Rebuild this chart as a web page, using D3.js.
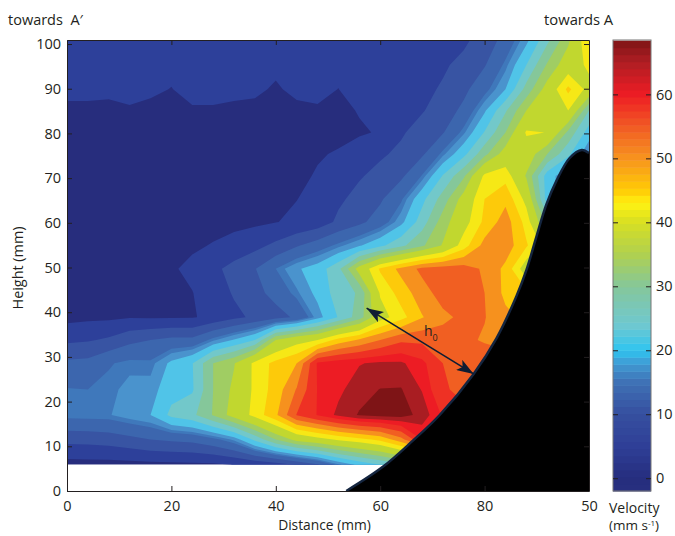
<!DOCTYPE html>
<html>
<head>
<meta charset="utf-8">
<script src="https://d3js.org/d3.v7.min.js"></script>
<style>
  html, body { margin: 0; padding: 0; background: #fff; }
  text { font-family: "Open Sans", sans-serif; fill: #231f20; }
</style>
</head>
<body>
<div id="chart"></div>
<script>
const width = 675;
const height = 536;

// grid the velocity was measured on
const distances = d3.range(0, 101, 4);
const heights = [5.9, 11.5, 17, 22.7, 28.6, 33.8, 38.9, 44.3, 49.7, 54.9, 60.2, 65.3, 70.5, 75.4, 80.2, 85.1, 89.9, 95.3, 100.9];

// velocity (mm/s), bottom row first. cells under the wall are just filler
const velocity = [
  .5,.6,.6,.8,1,1.1,1.2,1.3,2.1,2.8,4,6.2,9.6,15,19,22,25,25,25,25,25,25,25,25,25,25,
  7.2,7.3,7.8,8.8,10,10.6,11.2,13,16,23,30,35.5,38,40.7,42.6,45,50.5,60,60,60,60,60,60,60,60,60,
  15,15.2,15.3,16.8,18,23,25,30.3,36,41.5,47.3,56.2,60.2,63.8,66.3,67,67.3,65,59.5,57,57,57,57,57,57,57,
  14.2,14,14.8,16.3,16.5,20.5,21.5,30,35,41,45.8,52.3,60.2,62.3,64.7,66.1,66.2,62.8,56.5,55,55,55,55,55,55,55,
  10.8,11.2,13.7,14.8,14.6,18.8,21.8,30,33.7,41.2,45.3,48,60.5,62,62.8,63.6,63.5,61,56,55,55,55,55,55,55,55,
  5.2,5.6,6.6,8.9,10,11,11,15,18.3,22,34,38,40,45.5,48.5,52,55.2,55,54,53,51.5,50,50,50,50,50,
  .8,1.2,1.3,1.7,1.6,1.6,1.7,3,5,6.8,8.4,10.7,16.5,22.3,28,38,42.5,47.7,51,53,52.2,49,47,47,47,47,
  .9,.9,1,1,1.1,1.2,1.9,3.8,6.4,8.7,11.4,15,19,24,26.5,40.5,45.8,50.2,53.8,54,52,47,45,45,45,45,
  .9,.9,.9,1,1,1.6,2.8,5,7.4,9.8,14,17.5,19.8,25,36,44.6,49.2,53,54,54,51.3,47,37,30,30,30,
  .8,.8,.8,.9,.9,1,1.5,2.2,3.2,4.8,6.9,9.6,12,14.8,17.6,21,25,29.3,34.4,42.2,49.5,50.3,44.5,38,35,35,
  .9,.9,.9,.9,.9,1,1,1,1.1,1.3,1.9,2.6,3.7,6.8,9,12,17,24,32,38,45,50,42.5,28,22,20,
  .9,.9,.9,.9,.9,1,1,1,1.1,1.2,1.5,1.95,2.8,5.3,7.3,9.4,13.5,20.8,27.8,36,44,47,38.5,20,15,12,
  1,1,1,1,1,1,1,1.1,1.1,1.2,1.2,1.5,2.2,4,5.6,7.3,9.2,14.2,22.3,29.3,41,42.5,33.5,20,15,10,
  1.1,1.1,1.1,1.1,1.1,1.1,1.1,1.1,1.1,1.2,1.2,1.3,1.8,2.2,3.8,5.4,6.9,9.3,14.8,20.8,28.8,36.3,37,30,23,15,
  1.2,1.2,1.2,1.2,1.2,1.2,1.2,1.2,1.2,1.2,1.2,1.2,1.2,1.4,1.6,2.3,5.5,7.7,9.7,15,22.3,30,40.6,39.9,29,20,
  1.2,1.2,1.2,1.6,1.2,1.2,1.6,1.6,1.2,1.2,1.2,1.2,1.6,1.2,2.2,3,4.2,5.7,7.8,11,17.5,25.5,34,38.5,40,26,
  3,3,2.7,3.1,2.6,1.9,3.1,3.1,3,2.6,1.6,2.8,2.9,1.95,4,4.2,4.6,5.1,6.4,9,12.8,18,27.5,36,45,38.3,
  3.8,3.8,3.8,3.8,3.8,2.9,3.8,3.8,3.8,3.8,2.7,3.7,3.8,3,4.5,4.8,5,5.2,5.5,7,9.7,14.7,22,30.5,37,41,
  4,4,4,4,4,4,4,4,4,4,4,4,4,4,4,4,4,4,4.5,5.3,7.6,11.5,17,25,33,44.3
];

const levels = [2, 6, 10, 14, 15.5, 18, 22, 26, 30, 34, 40, 44, 48, 52, 56, 60, 63, 66];
const bandColors = ["#272d7d", "#2d409a", "#3854a3", "#3c66ae", "#3f78bb", "#4a93cd", "#50c4e8", "#72c8ca", "#85c79a",
  "#a0cd63", "#c1d72f", "#f6e816", "#fdca0a", "#f6911e", "#f15f22", "#ee3124", "#ed1c24", "#a91d22", "#7e1416"];

// colour bar
const barStops = [-2, 0, 5, 10, 15, 18, 20, 24, 30, 35, 40, 43, 45, 50, 55, 60, 65, 68.5];
const barColors = ["#28307f", "#262d7e", "#2f3f97", "#364f9f", "#3f71b5", "#409bd4", "#2ec4f0", "#6fc8d0", "#85c79a",
  "#afd050", "#d7df23", "#fff212", "#ffcb05", "#f7941e", "#f15a24", "#ed1c24", "#b01e23", "#7e1416"];
const barTicks = [0, 10, 20, 30, 40, 50, 60];

// wall profile
const wallX = [53.5, 60.5, 66.2, 71.4, 77.9, 82.3, 86.1, 88, 89.9, 91.8, 93.8, 96.3, 98.6, 100];
const wallH = [0, 5.4, 11.2, 17, 26.2, 34.2, 43.6, 49.4, 56.8, 64, 69.5, 74.5, 76.3, 75.6];

const xTicks = [0, 20, 40, 60, 80, 100];
const xTickLabels = ["0", "20", "40", "60", "80", "50"];
const yTicks = [0, 10, 20, 30, 40, 50, 60, 70, 80, 90, 100];

const x = d3.scaleLinear().domain([0, 100]).range([67, 589]);
const y = d3.scaleLinear().domain([0, 100.9]).range([491, 40]);

const svg = d3.select("#chart").append("svg")
  .attr("width", width)
  .attr("height", height)
  .style("display", "block");

svg.append("clipPath").attr("id", "plot")
  .append("rect")
  .attr("x", x(0)).attr("y", y(100.9))
  .attr("width", x(100) - x(0)).attr("height", y(5.9) - y(100.9));

// contour coordinates are in cells, a value sits at the centre of its cell
const colToPx = d3.scaleLinear().domain(distances.map((d, i) => i + .5)).range(distances.map(d => x(d)));
const rowToPx = d3.scaleLinear().domain(heights.map((d, i) => i + .5)).range(heights.map(d => y(d)));
const contourPath = d3.geoPath(d3.geoTransform({
  point(px, py) { this.stream.point(colToPx(px), rowToPx(py)); }
}));

const contours = d3.contours()
  .size([distances.length, heights.length])
  .thresholds(levels)(velocity);

const field = svg.append("g").attr("clip-path", "url(#plot)");
field.append("rect")
  .attr("x", x(0)).attr("y", y(100.9))
  .attr("width", x(100) - x(0)).attr("height", y(5.9) - y(100.9))
  .attr("fill", bandColors[0]);
field.selectAll("path")
  .data(contours)
  .enter()
  .append("path")
  .attr("d", contourPath)
  .attr("fill", (d, i) => bandColors[i + 1]);

// wall
const wall = d3.area()
  .x((d, i) => x(wallX[i]))
  .y0(y(0))
  .y1((d, i) => y(wallH[i]))
  .curve(d3.curveCatmullRom);
const wallEdge = d3.line()
  .x((d, i) => x(wallX[i]))
  .y((d, i) => y(wallH[i]))
  .curve(d3.curveCatmullRom);
svg.append("path").attr("d", wall(wallX)).attr("fill", "#000");
svg.append("path").attr("d", wallEdge(wallX))
  .attr("fill", "none")
  .attr("stroke", "#14253f")
  .attr("stroke-width", 2.5);

// arrow h0
const defs = svg.append("defs");
defs.append("marker").attr("id", "head")
  .attr("markerUnits", "userSpaceOnUse")
  .attr("markerWidth", 18).attr("markerHeight", 12)
  .attr("refX", 17).attr("refY", 6)
  .attr("orient", "auto-start-reverse")
  .append("path")
  .attr("d", "M17,6 L0,0 L4,6 L0,12 Z")
  .attr("fill", "#0f1d33");
svg.append("line")
  .attr("x1", x(57.4)).attr("y1", y(40.9))
  .attr("x2", x(77.9)).attr("y2", y(26.2))
  .attr("stroke", "#0f1d33").attr("stroke-width", 1.6)
  .attr("marker-start", "url(#head)")
  .attr("marker-end", "url(#head)");
const h0 = svg.append("text").attr("x", 424).attr("y", 336).style("font-size", "14px");
h0.append("tspan").text("h");
h0.append("tspan").attr("dy", 5).style("font-size", "9px").text("0");

// axes
function styleAxis(g) {
  g.selectAll("path").attr("stroke", "#231f20");
  g.selectAll("line").attr("stroke", "#231f20");
  g.selectAll("text").style("font-size", "14.5px").attr("fill", "#231f20");
}
svg.append("g")
  .attr("transform", `translate(0,${y(0)})`)
  .call(d3.axisBottom(x).tickValues(xTicks).tickSizeInner(-5).tickSizeOuter(0).tickPadding(10)
    .tickFormat((d, i) => xTickLabels[i]))
  .call(styleAxis);
svg.append("g")
  .attr("transform", `translate(${x(0)},0)`)
  .call(d3.axisLeft(y).tickValues(yTicks).tickSizeInner(-5).tickSizeOuter(0).tickPadding(6))
  .call(styleAxis);
svg.append("g")
  .attr("transform", `translate(0,${y(100.9)})`)
  .call(d3.axisTop(x).tickValues(xTicks.slice(1, 5)).tickSizeInner(-5).tickSizeOuter(0).tickFormat(""))
  .call(styleAxis);
svg.append("g")
  .attr("transform", `translate(${x(100)},0)`)
  .call(d3.axisRight(y).tickValues(yTicks).tickSizeInner(-5).tickSizeOuter(0).tickFormat(""))
  .call(styleAxis);

svg.append("text").attr("x", 324.5).attr("y", 530).attr("text-anchor", "middle")
  .style("font-size", "13.8px").text("Distance (mm)");
svg.append("text").attr("transform", "translate(22.5,268) rotate(-90)").attr("text-anchor", "middle")
  .style("font-size", "14.4px").text("Height (mm)");
svg.append("text").attr("x", 8).attr("y", 25).style("font-size", "14.5px").text("towards\u00a0 A\u2032");
svg.append("text").attr("x", 544).attr("y", 25).style("font-size", "14.8px").text("towards A");

// colour bar
const barY = d3.scaleLinear().domain([-2, 68.5]).range([491, 40]);
const barColor = d3.scaleLinear().domain(barStops).range(barColors);
const stripes = d3.range(-2, 67.4, 1.1);
const barX0 = 613, barX1 = 651;
svg.append("g").selectAll("rect")
  .data(stripes)
  .enter()
  .append("rect")
  .attr("x", barX0)
  .attr("width", barX1 - barX0)
  .attr("y", d => barY(Math.min(d + 1.1, 68.5)))
  .attr("height", d => barY(d) - barY(Math.min(d + 1.1, 68.5)) + .5)
  .attr("fill", d => barColor(d + .55));
svg.append("rect")
  .attr("x", barX0).attr("y", barY(68.5))
  .attr("width", barX1 - barX0).attr("height", barY(-2) - barY(68.5))
  .attr("fill", "none").attr("stroke", "#777");
svg.append("g")
  .attr("transform", `translate(${barX1},0)`)
  .call(d3.axisRight(barY).tickValues(barTicks).tickSizeInner(-5).tickSizeOuter(0).tickPadding(5))
  .call(g => g.select("path").remove())
  .call(styleAxis);
svg.append("g")
  .attr("transform", `translate(${barX0},0)`)
  .call(d3.axisLeft(barY).tickValues(barTicks).tickSizeInner(-5).tickSizeOuter(0).tickFormat(""))
  .call(g => g.select("path").remove())
  .call(styleAxis);

svg.append("text").attr("x", 609).attr("y", 513).style("font-size", "14px").text("Velocity");
const unit = svg.append("text").attr("x", 609).attr("y", 530).style("font-size", "13.5px");
unit.append("tspan").text("(mm s");
unit.append("tspan").attr("dy", -4).style("font-size", "8px").text("-1");
unit.append("tspan").attr("dy", 4).text(")");
</script>
</body>
</html>
